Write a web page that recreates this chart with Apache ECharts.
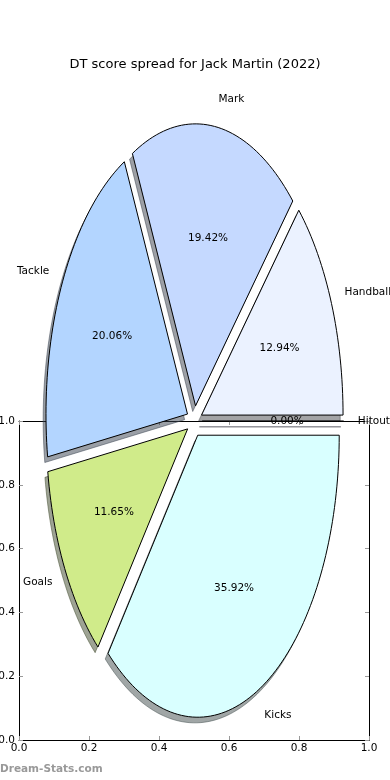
<!DOCTYPE html>
<html>
<head>
<meta charset="utf-8">
<script src="https://cdn.jsdelivr.net/npm/echarts@6/dist/echarts.min.js"></script>
<style>
html,body{margin:0;padding:0;background:#fff;}
#chart{width:390px;height:780px;}
</style>
</head>
<body>
<div id="chart"></div>
<script>
// ---- data ----
const titleText = 'DT score spread for Jack Martin (2022)';
const categories = ['Handball', 'Mark', 'Tackle', 'Goals', 'Kicks', 'Hitout'];
const values = [12.94, 19.42, 20.06, 11.65, 35.92, 0.00];
const sliceColors = ['#ebf2ff', '#c5d9ff', '#b3d5ff', '#d0eb8a', '#d9ffff', '#e0e0ff'];
const frameTicks = [0, 0.2, 0.4, 0.6, 0.8, 1.0];
const watermark = 'Dream-Stats.com';

// ---- pie geometry settings (in data units of the hidden pie axes) ----
const EXPLODE = 0.055;
const LABEL_DIST = 1.1;
const PCT_DIST = 0.6;
const SHADOW_OFF = -0.02;
const FONT = 'DejaVu Sans, sans-serif';

const total = values.reduce((a, b) => a + b, 0);
const cum = [0];
values.forEach(v => cum.push(cum[cum.length - 1] + v));

function sliceAngles(i) {
  const s = cum[i] / total * Math.PI * 2;
  const e = cum[i + 1] / total * Math.PI * 2;
  return [s, e, (s + e) / 2];
}

function slicePoints(api, i, dx, dy) {
  const [s, e, m] = sliceAngles(i);
  const ox = EXPLODE * Math.cos(m) + dx;
  const oy = EXPLODE * Math.sin(m) + dy;
  const pts = [api.coord([ox, oy])];
  const N = Math.max(2, Math.ceil((e - s) / (Math.PI * 2) * 240));
  for (let k = 0; k <= N; k++) {
    const a = s + (e - s) * k / N;
    pts.push(api.coord([ox + Math.cos(a), oy + Math.sin(a)]));
  }
  return pts;
}

function shadowColor(hex) {
  const r = parseInt(hex.slice(1, 3), 16), g = parseInt(hex.slice(3, 5), 16), b = parseInt(hex.slice(5, 7), 16);
  return 'rgba(' + Math.round(r * 0.3) + ',' + Math.round(g * 0.3) + ',' + Math.round(b * 0.3) + ',0.5)';
}

const seriesData = values.map((v, i) => [i, v]);

const chart = echarts.init(document.getElementById('chart'), null, {renderer: 'canvas'});

const frameAxisCommon = {
  type: 'value', min: 0, max: 1, interval: 0.2,
  axisLine: {show: true, onZero: false, lineStyle: {color: '#000', width: 1}},
  axisTick: {show: true, inside: true, length: 4, lineStyle: {color: '#999', width: 1}},
  splitLine: {show: false}
};

const option = {
  animation: false,
  backgroundColor: '#fff',
  title: {
    text: titleText, left: 'center', top: 53,
    textStyle: {fontFamily: FONT, fontSize: 13, fontWeight: 'normal', color: '#000'}
  },
  graphic: [{
    type: 'text', left: 0, top: 764,
    style: {text: watermark, fill: '#999', font: 'bold 10.5px ' + FONT}
  }],
  grid: [
    {left: 19, top: 421, width: 350, height: 319, containLabel: false, outerBoundsMode: 'none'},
    {left: 52.9, top: 139.2, width: 283, height: 564, containLabel: false, outerBoundsMode: 'none'}
  ],
  xAxis: [
    Object.assign({}, frameAxisCommon, {gridIndex: 0, position: 'bottom',
      axisLabel: {show: true, formatter: v => v.toFixed(1), color: '#000', fontFamily: FONT, fontSize: 10.5, margin: 3}}),
    Object.assign({}, frameAxisCommon, {gridIndex: 0, position: 'top', axisLabel: {show: false}}),
    {gridIndex: 1, type: 'value', min: -1, max: 1, show: false}
  ],
  yAxis: [
    Object.assign({}, frameAxisCommon, {gridIndex: 0, position: 'left',
      axisLabel: {show: true, formatter: v => v.toFixed(1), color: '#000', fontFamily: FONT, fontSize: 10.5, margin: 4}}),
    Object.assign({}, frameAxisCommon, {gridIndex: 0, position: 'right', axisLabel: {show: false}}),
    {gridIndex: 1, type: 'value', min: -1, max: 1, show: false}
  ],
  series: [
    {
      name: 'shadow', type: 'custom', xAxisIndex: 2, yAxisIndex: 2, clip: false, z: 3, silent: true,
      data: seriesData,
      renderItem: function (params, api) {
        const i = params.dataIndex;
        return {
          type: 'polygon',
          shape: {points: slicePoints(api, i, SHADOW_OFF, SHADOW_OFF)},
          style: {fill: shadowColor(sliceColors[i]), stroke: shadowColor(sliceColors[i]), lineWidth: 1}
        };
      }
    },
    {
      name: 'slices', type: 'custom', xAxisIndex: 2, yAxisIndex: 2, clip: false, z: 4,
      data: seriesData,
      renderItem: function (params, api) {
        const i = params.dataIndex;
        const [, , m] = sliceAngles(i);
        const c = Math.cos(m), s = Math.sin(m);
        const lp = api.coord([(EXPLODE + LABEL_DIST) * c, (EXPLODE + LABEL_DIST) * s]);
        const pp = api.coord([(EXPLODE + PCT_DIST) * c, (EXPLODE + PCT_DIST) * s]);
        return {
          type: 'group',
          children: [
            {
              type: 'polygon',
              shape: {points: slicePoints(api, i, 0, 0)},
              style: {fill: sliceColors[i], stroke: '#000', lineWidth: 1}
            },
            {
              type: 'text', x: lp[0], y: lp[1], z2: 10,
              style: {text: categories[i], fill: '#000', font: '10.5px ' + FONT,
                align: c > 0 ? 'left' : 'right', verticalAlign: 'middle'}
            },
            {
              type: 'text', x: pp[0], y: pp[1], z2: 10,
              style: {text: (api.value(1) / total * 100).toFixed(2) + '%', fill: '#000', font: '10.5px ' + FONT,
                align: 'center', verticalAlign: 'middle'}
            }
          ]
        };
      }
    }
  ]
};

chart.setOption(option);
</script>
</body>
</html>
